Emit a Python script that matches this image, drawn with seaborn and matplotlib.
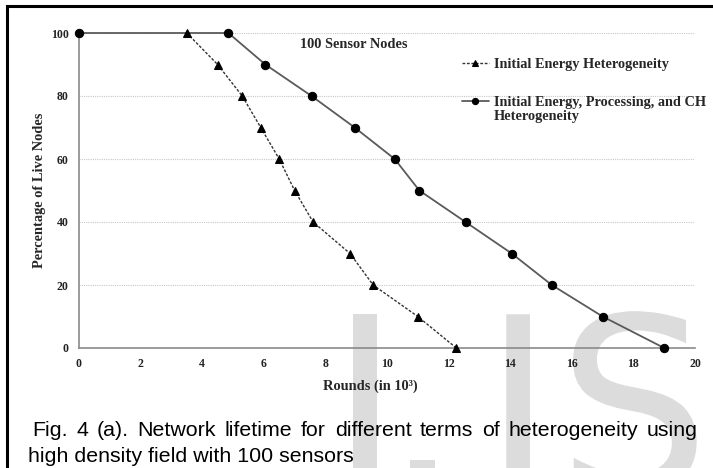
import matplotlib
matplotlib.use("Agg")
import matplotlib.pyplot as plt
import matplotlib.transforms as mtransforms
from matplotlib.lines import Line2D
from matplotlib.patches import PathPatch, Rectangle
from matplotlib.textpath import TextPath
from matplotlib.font_manager import FontProperties
import seaborn as sns
import pandas as pd

# ---- data (rounds in thousands, % of nodes still alive) ----
energy_rounds = [3.5, 4.5, 5.3, 5.9, 6.5, 7.0, 7.6, 8.8, 9.55, 11.0, 12.25]
energy_alive = [100, 90, 80, 70, 60, 50, 40, 30, 20, 10, 0]

full_rounds = [0.0, 4.85, 6.05, 7.55, 8.95, 10.25, 11.05, 12.55, 14.05, 15.35, 17.0, 19.0]
full_alive = [100, 100, 90, 80, 70, 60, 50, 40, 30, 20, 10, 0]

x_ticks = [0, 2, 4, 6, 8, 10, 12, 14, 16, 18, 20]
y_ticks = [0, 20, 40, 60, 80, 100]

series_names = ["Initial Energy Heterogeneity",
                "Initial Energy, Processing, and CH"]
series_name_cont = "Heterogeneity"
panel_title = "100 Sensor Nodes"
x_label = "Rounds (in 10³)"
y_label = "Percentage of Live Nodes"
caption_line1 = "Fig. 4 (a). Network lifetime for different terms of heterogeneity using"
caption_line2 = "high density field with 100 sensors"

W, H = 713, 468
sns.set_style("white")
plt.rcParams["font.family"] = ["Liberation Serif", "DejaVu Serif"]

fig = plt.figure(figsize=(W / 100, H / 100), dpi=100)
fig.patch.set_facecolor("white")

# faint background lettering
wm_font = FontProperties(family="DejaVu Sans")
wm_em = 241
wm_base = H - 490
def wm_glyph(ch, left=None, right=None):
    p = TextPath((0, 0), ch, size=wm_em, prop=wm_font)
    ext = p.get_extents()
    x0 = left - ext.x0 if left is not None else right - ext.x1
    tr = mtransforms.Affine2D().translate(x0, wm_base)
    fig.add_artist(PathPatch(p, transform=tr, fc="#dcdcdc", ec="none", zorder=-5))
wm_glyph("I", left=353)
wm_glyph(".", left=410)
wm_glyph("J", right=530)
wm_glyph("S", left=573)

# outer frame (top and left edges visible)
fig.add_artist(Rectangle((7, -30), 900, (H - 5.5) + 30, transform=mtransforms.IdentityTransform(),
                         fill=False, ec="black", lw=2.2, zorder=-4))

ax_l, ax_r, ax_t, ax_b = 79, 695, 33, 348
ax = fig.add_axes([ax_l / W, (H - ax_b) / H, (ax_r - ax_l) / W, (ax_b - ax_t) / H])
ax.set_facecolor("none")

df_e = pd.DataFrame({"rounds": energy_rounds, "alive": energy_alive})
df_f = pd.DataFrame({"rounds": full_rounds, "alive": full_alive})

sns.lineplot(data=df_f, x="rounds", y="alive", ax=ax, estimator=None, sort=False,
             color="#5a5a5a", lw=1.3, marker="o", markersize=6,
             markerfacecolor="black", markeredgecolor="black", label=series_names[1],
             clip_on=False, zorder=3)
sns.lineplot(data=df_e, x="rounds", y="alive", ax=ax, estimator=None, sort=False,
             color="#333333", lw=1.0, linestyle=(0, (2, 1.2)), marker="^", markersize=5.5,
             markerfacecolor="black", markeredgecolor="black", label=series_names[0],
             clip_on=False, zorder=4)

ax.set_xlim(0, 20)
ax.set_ylim(0, 100)
ax.set_xticks(x_ticks)
ax.set_yticks(y_ticks)
ax.set_xticklabels([str(t) for t in x_ticks])
ax.set_yticklabels([str(t) for t in y_ticks])
ax.yaxis.grid(True, color="#c8c8c8", lw=0.8, linestyle=(0, (1, 1)))
ax.xaxis.grid(False)
ax.set_axisbelow(True)
for side in ["top", "right"]:
    ax.spines[side].set_visible(False)
for side in ["left", "bottom"]:
    ax.spines[side].set_color("#8a8a8a")
    ax.spines[side].set_linewidth(1.2)
ax.tick_params(axis="both", direction="out", length=4, width=1, color="#8a8a8a",
               labelsize=8.5, labelcolor="#222222", pad=3.4)
for lab in ax.get_xticklabels() + ax.get_yticklabels():
    lab.set_fontweight("bold")

ax.set_xlabel(x_label, fontsize=10.4, fontweight="bold", labelpad=6.5)
ax.xaxis.label.set_x((370 - ax_l) / (ax_r - ax_l))
ax.set_ylabel(y_label, fontsize=10.4, fontweight="bold", labelpad=3.5)

ax.text((354 - ax_l) / (ax_r - ax_l), 1 - (44 - ax_t) / (ax_b - ax_t), panel_title,
        transform=ax.transAxes, ha="center", va="center", fontsize=10.4, fontweight="bold")

# legends: first entry, then two-line second entry with handle on the first line
handles, labels = ax.get_legend_handles_labels()
hmap = dict(zip(labels, handles))
if ax.get_legend() is not None:
    ax.get_legend().remove()
leg_kw = dict(frameon=False, borderpad=0, borderaxespad=0, handlelength=1.87,
              handletextpad=0.36, markerscale=0.75, numpoints=1,
              prop={"size": 10.3, "weight": "bold"}, bbox_transform=fig.transFigure)
leg1 = ax.legend([hmap[series_names[0]]], [series_names[0]], loc="center left",
                 bbox_to_anchor=(462 / W, 1 - 64 / H), **leg_kw)
ax.add_artist(leg1)
blank = Line2D([], [], linestyle="none", marker="none")
leg2 = ax.legend([hmap[series_names[1]], blank], [series_names[1], series_name_cont],
                 loc="center left", bbox_to_anchor=(462 / W, 1 - 109.5 / H),
                 labelspacing=0.05, **leg_kw)

# caption below the chart, first line justified
cap_font = dict(family=["Liberation Sans", "DejaVu Sans"], size=15.4, color="black")
renderer = fig.canvas.get_renderer()
words = caption_line1.split(" ")
arts = [fig.text(0, 1 - 436 / H, w, va="baseline", ha="left", **cap_font) for w in words]
widths = [a.get_window_extent(renderer).width for a in arts]
x_start, x_end = 32, 698
gap = (x_end - x_start - sum(widths)) / (len(words) - 1)
x = x_start
for a, w in zip(arts, widths):
    a.set_x(x / W)
    x += w + gap
fig.text(28 / W, 1 - 462 / H, caption_line2, va="baseline", ha="left", **cap_font)

fig.savefig("out.png", dpi=100)
